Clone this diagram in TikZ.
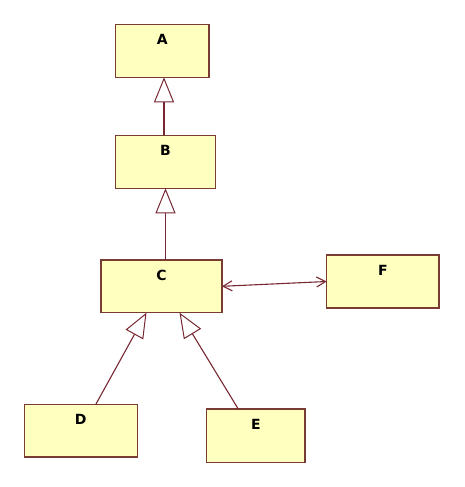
\documentclass[tikz,border=0pt]{standalone}
\usepackage{fontspec}
\setmainfont{DejaVu Sans}
\usetikzlibrary{arrows.meta,calc}
\definecolor{boxfill}{RGB}{255,255,192}
\definecolor{boxline}{RGB}{120,60,50}
\definecolor{linkcol}{RGB}{120,40,50}
\tikzset{
  umlbox/.style={draw=boxline, fill=boxfill, line width=1.2pt, inner sep=0pt, outer sep=0pt},
  lbl/.style={font=\fontsize{14}{16}\selectfont\bfseries, text=black, inner sep=0pt},
  inherit/.style={draw=linkcol, line width=1.1pt, -{Triangle[open, length=25pt, width=20pt, line width=1pt]}},
  assoc/.style={draw=linkcol, line width=1.1pt, {Straight Barb[length=9pt, width=10pt]}-{Straight Barb[length=9pt, width=10pt]}}
}
\begin{document}
\begin{tikzpicture}[x=1pt,y=-1pt]
\useasboundingbox (0,0) rectangle (464,487);
\node[umlbox, minimum width=93.3pt, minimum height=53pt] (A) at (162.3,50.8) {};
\node[umlbox, minimum width=99.6pt, minimum height=53pt] (B) at (165.5,161.8) {};
\node[umlbox, minimum width=121pt, minimum height=52.7pt] (C) at (161.5,286.3) {};
\node[umlbox, minimum width=112.3pt, minimum height=53pt] (F) at (382.8,281.5) {};
\node[umlbox, minimum width=113pt, minimum height=52.7pt] (D) at (80.8,430.7) {};
\node[umlbox, minimum width=98.3pt, minimum height=53.3pt] (E) at (255.8,435.7) {};
\node[lbl] (At) at ([yshift=-15.5pt]A.north) {A};
\node[lbl] (Bt) at ([yshift=-15.5pt]B.north) {B};
\node[lbl] (Ct) at ([yshift=-15.5pt]C.north) {C};
\node[lbl] (Ft) at ([yshift=-15.5pt]F.north) {F};
\node[lbl] (Dt) at ([yshift=-15.5pt]D.north) {D};
\node[lbl] (Et) at ([yshift=-15.5pt]E.north) {E};
\draw[inherit] ([xshift=-1.5pt]B.north) -- ([xshift=-1.5pt]B.north |- A.south);
\draw[inherit] (C.north -| B.south) -- (B.south);
\draw[inherit] ([xshift=15pt]D.north) -- ([xshift=-15pt]C.south);
\draw[inherit] ([xshift=-17.5pt]E.north) -- ([xshift=18pt]C.south);
\draw[assoc] (C.east) -- (F.west);
\end{tikzpicture}
\end{document}
